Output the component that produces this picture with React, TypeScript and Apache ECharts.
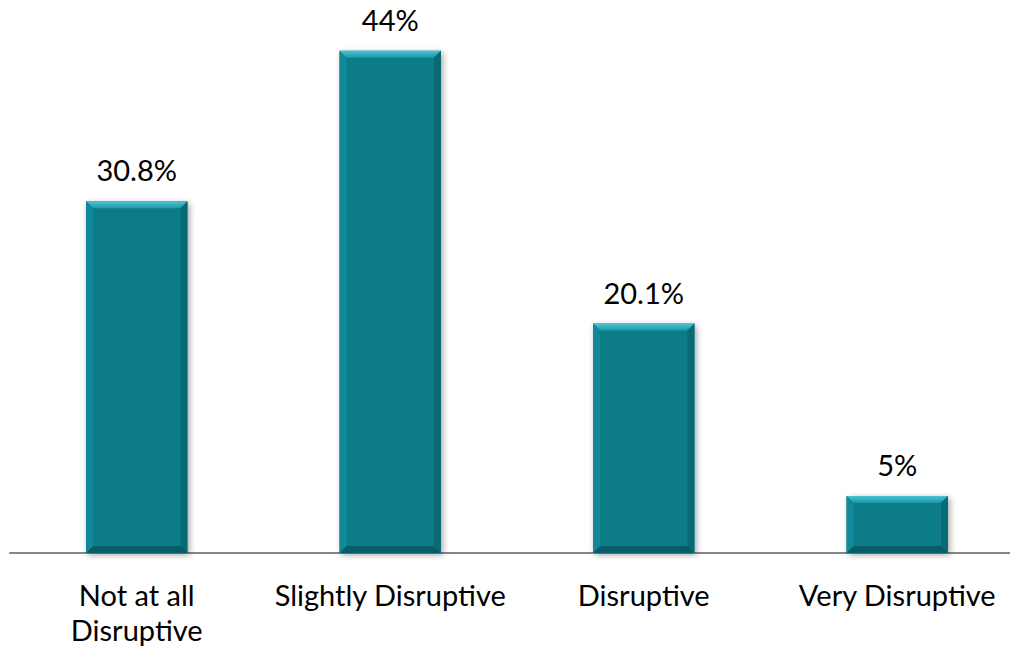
import React, { useEffect, useRef } from "react";
import * as echarts from "echarts";

const categories = ["Not at all\nDisruptive", "Slightly Disruptive", "Disruptive", "Very Disruptive"];
const values = [30.8, 44, 20.1, 5];
const valueLabels = ["30.8%", "44%", "20.1%", "5%"];

const FONT = "Lato, 'Open Sans', sans-serif";

export default function App() {
  const ref = useRef<HTMLDivElement>(null);
  useEffect(() => {
    if (!ref.current) return;
    const chart = echarts.init(ref.current, undefined, { renderer: "svg" });
    const option: any = {
      animation: false,
      grid: { left: 10, right: 0, top: 5, bottom: 96, outerBoundsMode: "none", containLabel: false },
      xAxis: {
        type: "category",
        data: categories,
        axisTick: { show: false },
        axisLine: { lineStyle: { color: "#868686", width: 2 } },
        axisLabel: {
          color: "#000",
          fontSize: 29,
          fontFamily: FONT,
          lineHeight: 35,
          margin: 24,
          interval: 0,
        },
      },
      yAxis: {
        type: "value",
        min: 0,
        max: 48,
        show: false,
        splitLine: { show: false },
      },
      series: [
        {
          type: "custom",
          data: values.map((v, i) => [i, v]),
          renderItem: (params: any, api: any) => {
            const idx = api.value(0);
            const val = api.value(1);
            const top = api.coord([idx, val]);
            const base = api.coord([idx, 0]);
            const band = api.size([1, 0])[0];
            const w = band * 0.4;
            const x0 = top[0] - w / 2;
            const x1 = top[0] + w / 2;
            const y0 = top[1];
            const y1 = base[1];
            const b = 7;
            return {
              type: "group",
              children: [
                {
                  type: "rect",
                  shape: { x: x0, y: y0, width: w, height: y1 - y0 },
                  style: {
                    fill: "#0a7c89",
                    shadowBlur: 6,
                    shadowOffsetX: 2,
                    shadowOffsetY: 2,
                    shadowColor: "rgba(0,0,0,0.35)",
                  },
                },
                {
                  type: "polygon",
                  shape: { points: [[x0, y0], [x1, y0], [x1 - b, y0 + b], [x0 + b, y0 + b]] },
                  style: {
                    fill: new echarts.graphic.LinearGradient(0, 0, 0, 1, [
                      { offset: 0, color: "#4cc3d2" },
                      { offset: 1, color: "#1a9aa8" },
                    ]),
                  },
                },
                {
                  type: "polygon",
                  shape: { points: [[x0, y0], [x0 + b, y0 + b], [x0 + b, y1 - b], [x0, y1]] },
                  style: { fill: "#128998" },
                },
                {
                  type: "polygon",
                  shape: { points: [[x1, y0], [x1, y1], [x1 - b, y1 - b], [x1 - b, y0 + b]] },
                  style: { fill: "#086a75" },
                },
                {
                  type: "polygon",
                  shape: { points: [[x0, y1], [x0 + b, y1 - b], [x1 - b, y1 - b], [x1, y1]] },
                  style: { fill: "#075d67" },
                },
                {
                  type: "text",
                  x: top[0],
                  y: y0 - 17,
                  style: {
                    text: valueLabels[params.dataIndex],
                    fill: "#000",
                    fontSize: 29,
                    fontFamily: FONT,
                    align: "center",
                    verticalAlign: "bottom",
                  },
                },
              ],
            };
          },
        },
      ],
    };
    chart.setOption(option);
    return () => chart.dispose();
  }, []);
  return (
    <div style={{ position: "fixed", left: 0, top: 0, width: 1010, height: 649, overflow: "hidden", background: "#fff" }}>
      <div ref={ref} style={{ width: 1024, height: 649 }} />
    </div>
  );
}
